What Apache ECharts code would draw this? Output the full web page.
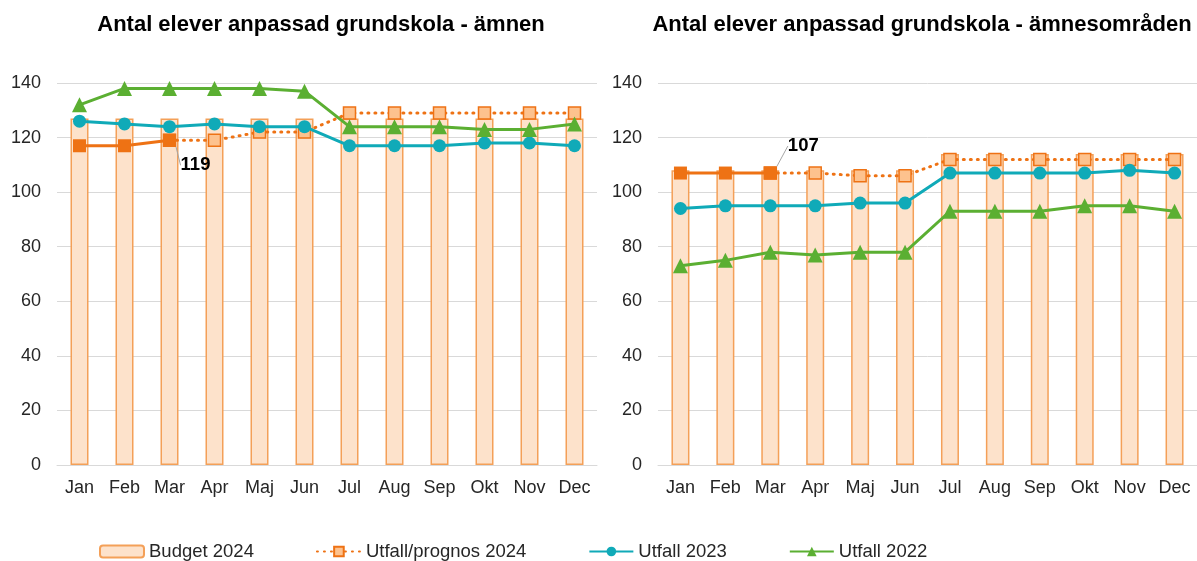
<!DOCTYPE html>
<html>
<head>
<meta charset="utf-8">
<script src="https://cdn.jsdelivr.net/npm/echarts@6/dist/echarts.min.js"></script>
<style>
  body { margin: 0; background: #fff; }
  #chart { width: 1197px; height: 561px; }
</style>
</head>
<body>
<div id="chart"></div>
<script>
// Månader
var months = ['Jan', 'Feb', 'Mar', 'Apr', 'Maj', 'Jun', 'Jul', 'Aug', 'Sep', 'Okt', 'Nov', 'Dec'];
var actualMonths = 3; // Jan-Mar är utfall, resten prognos

// Ämnen
var budgetAmnen = [127, 127, 127, 127, 127, 127, 127, 127, 127, 127, 127, 127];
var prognosAmnen = [117, 117, 119, 119, 122, 122, 129, 129, 129, 129, 129, 129];
var utfall2023Amnen = [126, 125, 124, 125, 124, 124, 117, 117, 117, 118, 118, 117];
var utfall2022Amnen = [132, 138, 138, 138, 138, 137, 124, 124, 124, 123, 123, 125];

// Ämnesområden
var budgetOmraden = [108, 108, 108, 108, 108, 108, 114, 114, 114, 114, 114, 114];
var prognosOmraden = [107, 107, 107, 107, 106, 106, 112, 112, 112, 112, 112, 112];
var utfall2023Omraden = [94, 95, 95, 95, 96, 96, 107, 107, 107, 107, 108, 107];
var utfall2022Omraden = [73, 75, 78, 77, 78, 78, 93, 93, 93, 95, 95, 93];

var orange = '#EE7214';
var lightOrange = '#FDC28E';
var teal = '#10AAB8';
var green = '#5BAF32';
var font = 'Arial, "Liberation Sans", sans-serif';

// dela upp utfall/prognos i heldragen och prickad del
function actualPart(arr) {
  return arr.map(function (v, i) {
    if (i < actualMonths) {
      if (i === actualMonths - 1) {
        return { value: v, label: { show: true }, labelLine: { show: true } };
      }
      return v;
    }
    return null;
  });
}
function forecastPart(arr) {
  return arr.map(function (v, i) { return i >= actualMonths - 1 ? v : null; });
}

function makeSeries(idx, budget, prognos, u2023, u2022, labelPos) {
  return [
    {
      name: 'Budget 2024',
      type: 'bar',
      xAxisIndex: idx, yAxisIndex: idx,
      barWidth: 18,
      data: budget,
      itemStyle: { color: '#FDE2CB', borderColor: '#F4A058', borderWidth: 1.5 }
    },
    {
      name: 'Utfall/prognos 2024',
      type: 'line',
      xAxisIndex: idx, yAxisIndex: idx,
      data: forecastPart(prognos),
      symbol: 'rect', symbolSize: 12,
      lineStyle: { color: orange, width: 3, type: [1, 6], cap: 'round' },
      itemStyle: { color: lightOrange, borderColor: orange, borderWidth: 1.5 },
      z: 3
    },
    {
      name: 'Utfall 2023',
      type: 'line',
      xAxisIndex: idx, yAxisIndex: idx,
      data: u2023,
      symbol: 'circle', symbolSize: 13,
      lineStyle: { color: teal, width: 3 },
      itemStyle: { color: teal },
      z: 4
    },
    {
      name: 'Utfall 2022',
      type: 'line',
      xAxisIndex: idx, yAxisIndex: idx,
      data: u2022,
      symbol: 'triangle', symbolSize: 15,
      lineStyle: { color: green, width: 3 },
      itemStyle: { color: green },
      z: 5
    },
    {
      name: 'Utfall 2024',
      type: 'line',
      xAxisIndex: idx, yAxisIndex: idx,
      data: actualPart(prognos),
      symbol: 'rect', symbolSize: 13,
      lineStyle: { color: orange, width: 3 },
      itemStyle: { color: orange },
      label: {
        show: false,
        position: 'inside',
        fontFamily: font, fontSize: 18.5, fontWeight: 'bold', color: '#000'
      },
      labelLine: { show: false, lineStyle: { color: '#A6A6A6', width: 1 } },
      labelLayout: { dx: labelPos.dx, dy: labelPos.dy },
      z: 6
    }
  ];
}

function makeXAxis(idx) {
  return {
    type: 'category', gridIndex: idx, data: months,
    axisLine: { lineStyle: { color: '#D9D9D9' } },
    axisTick: { show: false },
    axisLabel: { color: '#262626', fontSize: 18, fontFamily: font, margin: 14 }
  };
}
function makeYAxis(idx) {
  return {
    type: 'value', gridIndex: idx, min: 0, max: 140, interval: 20,
    axisLine: { show: false }, axisTick: { show: false },
    splitLine: { lineStyle: { color: '#D9D9D9' } },
    axisLabel: { color: '#262626', fontSize: 18, fontFamily: font, margin: 16 }
  };
}

var myChart = echarts.init(document.getElementById('chart'));
var option = {
  animation: false,
  backgroundColor: '#fff',
  title: [
    {
      text: 'Antal elever anpassad grundskola - ämnen',
      left: 316, top: 9, textAlign: 'center',
      textStyle: { fontFamily: font, fontSize: 22, fontWeight: 'bold', color: '#000' }
    },
    {
      text: 'Antal elever anpassad grundskola - ämnesområden',
      left: 917, top: 9, textAlign: 'center',
      textStyle: { fontFamily: font, fontSize: 22, fontWeight: 'bold', color: '#000' }
    }
  ],
  legend: {
    data: ['Budget 2024', 'Utfall/prognos 2024', 'Utfall 2023', 'Utfall 2022'],
    left: 94, top: 537,
    itemWidth: 44, itemHeight: 12, itemGap: 62,
    textStyle: { fontFamily: font, fontSize: 18.5, color: '#262626' }
  },
  grid: [
    { left: 57, top: 83, width: 540, height: 382 },
    { left: 658, top: 83, width: 543, height: 382 }
  ],
  xAxis: [makeXAxis(0), makeXAxis(1)],
  yAxis: [makeYAxis(0), makeYAxis(1)],
  series: makeSeries(0, budgetAmnen, prognosAmnen, utfall2023Amnen, utfall2022Amnen,
      { dx: 26, dy: 25 })
    .concat(makeSeries(1, budgetOmraden, prognosOmraden, utfall2023Omraden, utfall2022Omraden,
      { dx: 33, dy: -27 }))
};
myChart.setOption(option);
</script>
</body>
</html>
